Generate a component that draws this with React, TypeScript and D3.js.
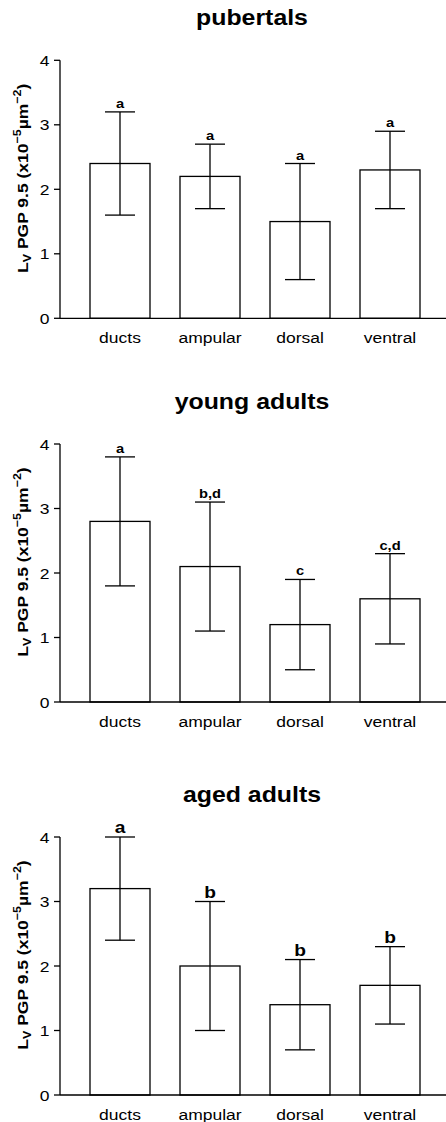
import React from "react";
import * as d3 from "d3";

const categories = ["ducts", "ampular", "dorsal", "ventral"];
const panelTitles = ["pubertals", "young adults", "aged adults"];
const means = [
  [2.4, 2.2, 1.5, 2.3],
  [2.8, 2.1, 1.2, 1.6],
  [3.2, 2.0, 1.4, 1.7],
];
const lowers = [
  [1.6, 1.7, 0.6, 1.7],
  [1.8, 1.1, 0.5, 0.9],
  [2.4, 1.0, 0.7, 1.1],
];
const uppers = [
  [3.2, 2.7, 2.4, 2.9],
  [3.8, 3.1, 1.9, 2.3],
  [4.0, 3.0, 2.1, 2.3],
];
const letters = [
  ["a", "a", "a", "a"],
  ["a", "b,d", "c", "c,d"],
  ["a", "b", "b", "b"],
];
const yTicks = [0, 1, 2, 3, 4];

const W = 446;
const H = 1122;
const SX = 1.13;
const FONT = "'Liberation Sans', Arial, Helvetica, sans-serif";
const zeros = [318.3, 702, 1095];
const letterSizes = [13, 13, 17];

function Panel({ idx }: { idx: number }) {
  const y0 = zeros[idx];
  const y = d3.scaleLinear().domain([0, 4]).range([y0, y0 - 258]);
  const x = d3
    .scaleBand<string>()
    .domain(categories)
    .range([75, 435])
    .paddingInner(1 / 3)
    .paddingOuter(1 / 6);
  const bw = x.bandwidth();
  const cap = 15;
  const sw = 1.3;
  return (
    <g>
      <text
        transform={`translate(252,${y0 - 293}) scale(${SX},1)`}
        textAnchor="middle"
        fontFamily={FONT}
        fontWeight="bold"
        fontSize={22}
        fill="#000"
      >
        {panelTitles[idx]}
      </text>
      <text
        transform={`translate(27.5,${y0 - 140}) rotate(-90) scale(${SX},1)`}
        textAnchor="middle"
        fontFamily={FONT}
        fontWeight="bold"
        fontSize={15.5}
        fill="#000"
      >
        L<tspan fontSize={11} dy={3}>V</tspan>
        <tspan dy={-3}> PGP 9.5 (x10</tspan>
        <tspan fontSize={11} dy={-6.5}>−5</tspan>
        <tspan dy={6.5}>µm</tspan>
        <tspan fontSize={11} dy={-6.5}>−2</tspan>
        <tspan dy={6.5}>)</tspan>
      </text>
      {/* y axis */}
      <line x1={60} x2={60} y1={y(4)} y2={y0} stroke="#000" strokeWidth={sw} />
      {yTicks.map((t) => (
        <g key={t}>
          <line x1={54} x2={60} y1={y(t)} y2={y(t)} stroke="#000" strokeWidth={sw} />
          <text
            transform={`translate(49.5,${y(t) + 5.5}) scale(${SX},1)`}
            textAnchor="end"
            fontFamily={FONT}
            fontSize={15.5}
            fill="#000"
          >
            {t}
          </text>
        </g>
      ))}
      {/* bars */}
      {categories.map((c, i) => {
        const bx = x(c)!;
        const cx = bx + bw / 2;
        return (
          <g key={c}>
            <rect
              x={bx}
              y={y(means[idx][i])}
              width={bw}
              height={y0 - y(means[idx][i])}
              fill="#fff"
              stroke="#000"
              strokeWidth={sw}
            />
            <line x1={cx} x2={cx} y1={y(uppers[idx][i])} y2={y(lowers[idx][i])} stroke="#000" strokeWidth={sw} />
            <line x1={cx - cap} x2={cx + cap} y1={y(uppers[idx][i])} y2={y(uppers[idx][i])} stroke="#000" strokeWidth={sw} />
            <line x1={cx - cap} x2={cx + cap} y1={y(lowers[idx][i])} y2={y(lowers[idx][i])} stroke="#000" strokeWidth={sw} />
            <text
              transform={`translate(${cx},${y(uppers[idx][i]) - 4}) scale(${SX},1)`}
              textAnchor="middle"
              fontFamily={FONT}
              fontWeight="bold"
              fontSize={letterSizes[idx]}
              fill="#000"
            >
              {letters[idx][i]}
            </text>
            <text
              transform={`translate(${cx},${y0 + 24.5}) scale(${SX},1)`}
              textAnchor="middle"
              fontFamily={FONT}
              fontSize={15.5}
              fill="#000"
            >
              {c}
            </text>
          </g>
        );
      })}
      {/* x axis */}
      <line x1={60} x2={446} y1={y0} y2={y0} stroke="#000" strokeWidth={sw} />
    </g>
  );
}

export default function App() {
  return (
    <svg
      width={W}
      height={H}
      style={{ position: "absolute", left: 0, top: 0, background: "#fff" }}
    >
      <rect x={0} y={0} width={W} height={H} fill="#fff" />
      {[0, 1, 2].map((i) => (
        <Panel key={i} idx={i} />
      ))}
    </svg>
  );
}
